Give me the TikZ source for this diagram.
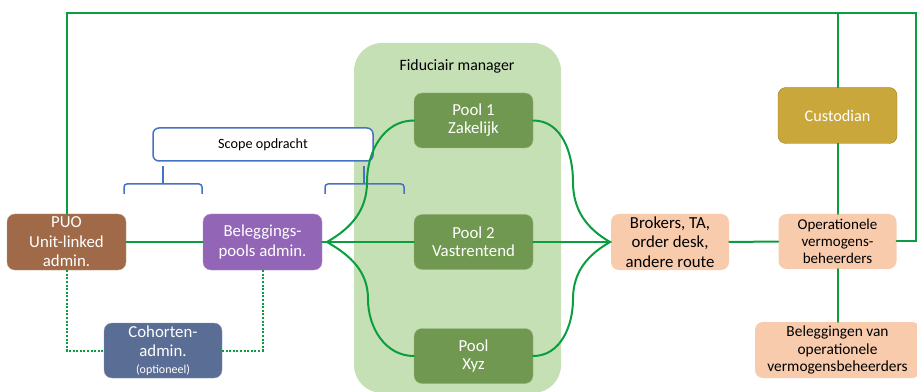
\documentclass[tikz,border=0pt]{standalone}
\usepackage{fontspec}
\setmainfont{Carlito}
\usetikzlibrary{
  chains,
  scopes
}
\definecolor{linkgreen}{RGB}{10,158,62}
\definecolor{puobrown}{RGB}{160,106,73}
\definecolor{poolpurple}{RGB}{146,101,183}
\definecolor{cohblue}{RGB}{89,109,149}
\definecolor{fidgreen}{RGB}{197,224,180}
\definecolor{pooldark}{RGB}{112,152,80}
\definecolor{peach}{RGB}{248,203,173}
\definecolor{custgold}{RGB}{202,167,58}
\definecolor{custedge}{RGB}{150,120,30}
\definecolor{scopeblue}{RGB}{68,114,196}

\begin{document}
\begin{tikzpicture}[x=1pt,y=1pt,
      box/.style={
         rectangle,
         rounded corners=8pt,
         minimum width=119pt,
         minimum height=56pt,
         inner sep=1pt,
         align=center,
         fill=#1,
         draw=#1!70!white,
         text=white,
         font=\fontsize{16.8}{19.5}\selectfont
      },
      pool box/.style={
         box=pooldark,
         minimum height=55pt,
         font=\fontsize{16.8}{18}\selectfont
      },
      light box/.style={
         box=peach,
         draw=none,
         text=black
      },
      scope box/.style={
         rectangle,
         rounded corners=6pt,
         minimum width=220pt,
         minimum height=33pt,
         fill=white,
         draw=scopeblue,
         line width=1.5pt,
         font=\fontsize{14.2}{16}\selectfont
      },
      fid area/.style={
         rectangle,
         rounded corners=28pt,
         minimum width=207pt,
         minimum height=350pt,
         fill=fidgreen
      },
      point/.style={coordinate},
      link/.style={draw=linkgreen,line width=2pt,line cap=round},
      dot link/.style={line cap=butt,dash pattern=on 2pt off 1.6pt},
      every join/.style={link},
      vh path/.style={to path={|- (\tikztotarget)}},
      bracket/.style={draw=scopeblue,line width=1.5pt,rounded corners=3pt}
    ]
    \useasboundingbox (0,0) rectangle (917,391);
    % background area and scope
    \node (fid) [fid area] at (457.5,173) {};
    \node (fidtitle) [font=\fontsize{15.8}{18}\selectfont] at (457,325) {Fiduciair manager};
    \node (scope) [scope box] at (263,246.5) {Scope opdracht};
    \draw[bracket] (124,197) -- (124,207) -- (202,207) -- (202,197);
    \draw[bracket] (163,207) -- (163,225);
    \draw[bracket] (325,197) -- (325,207) -- (404,207) -- (404,197);
    \draw[bracket] (364,207) -- (364,225);
    % boxes
    \node (puo) [box=puobrown] at (66.5,149) {PUO\\Unit-linked\\admin.};
    \node (bpa) [box=poolpurple] at (262.5,149) {Beleggings-\\pools admin.};
    \node (coh) [box=cohblue, minimum width=118pt, minimum height=55pt] at (163,40.5)
       {Cohorten-\\admin.\\[-3pt]{\fontsize{12}{13}\selectfont(optioneel)}};
    \node (p1) [pool box] at (473.5,270.5) {Pool 1\\Zakelijk};
    \node (p2) [pool box] at (473.5,149) {Pool 2\\Vastrentend};
    \node (p3) [pool box] at (473.5,35) {Pool\\Xyz};
    \node (brk) [light box, minimum width=118pt] at (670,149) {Brokers, TA,\\order desk,\\andere route};
    \node (ovb) [light box, minimum width=118pt, minimum height=55pt,
       font=\fontsize{15}{17}\selectfont] at (837.5,149.5) {Operationele\\vermogens-\\beheerders};
    \node (cus) [box=custgold, draw=custedge, font=\fontsize{16.2}{18}\selectfont] at (837.5,275.5) {Custodian};
    \node (bvo) [light box, minimum width=165pt, font=\fontsize{15.4}{17.5}\selectfont] at (837.5,41)
       {Beleggingen van\\operationele\\vermogensbeheerders};
    % routing points
    \node (tr) [point] at (916,378) {};
    \node (ct) [point] at (837.5,378) {};
    \node (fl) [point] at (327,149) {};
    \node (fr) [point] at (610,149) {};
    \node (ul) [point] at (367,209) {};
    \node (ll) [point] at (368,92) {};
    \node (ur) [point] at (573,209) {};
    \node (lr) [point] at (573,92) {};
  \draw[link] (puo) |- (tr) |- (ovb);
  { [start chain]
       \chainin (puo);
       \chainin (bpa)    [join];
       \chainin (fl)     [join];
       \chainin (p2)     [join];
       \chainin (brk)    [join];
       \chainin (ovb)    [join];
       \chainin (bvo)    [join];
  }
  { [start chain]
       \chainin (ct);
       \chainin (cus)    [join];
       \chainin (ovb)    [join];
  }
  { [start chain]
       \chainin (fl);
       \chainin (ul)     [join=by {out=30,in=-90}];
       \chainin (p1)     [join=by {out=90,in=180}];
       \chainin (ur)     [join=by {out=0,in=90}];
       \chainin (fr)     [join=by {out=-90,in=150}];
  }
  { [start chain]
       \chainin (fl);
       \chainin (ll)     [join=by {out=-30,in=90}];
       \chainin (p3)     [join=by {out=-90,in=180}];
       \chainin (lr)     [join=by {out=0,in=-90}];
       \chainin (fr)     [join=by {out=90,in=-150}];
  }
  { [start chain]
       \chainin (puo);
       \chainin (coh)    [join=by {vh path,dot link}];
  }
  { [start chain]
       \chainin (bpa);
       \chainin (coh)    [join=by {vh path,dot link}];
  }
\end{tikzpicture}
\end{document}
